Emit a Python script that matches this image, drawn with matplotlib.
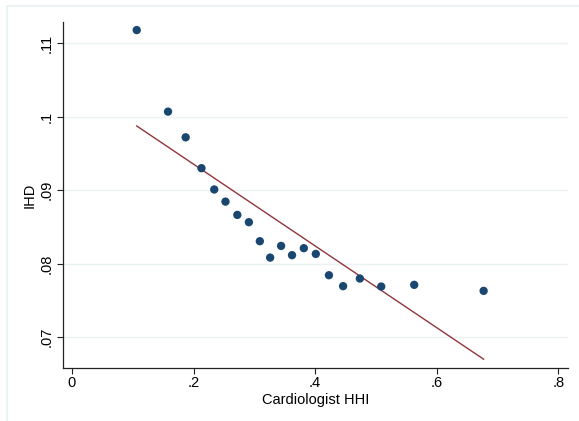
import matplotlib
matplotlib.use("Agg")
import matplotlib.pyplot as plt
from matplotlib.lines import Line2D
import numpy as np

plt.rcParams['font.family'] = ['Liberation Sans', 'DejaVu Sans']

# Binned scatter data
hhi = [0.1065, 0.158, 0.187, 0.213, 0.234, 0.2525, 0.272, 0.291, 0.309, 0.326,
       0.344, 0.362, 0.3814, 0.4011, 0.4227, 0.446, 0.4736, 0.5087, 0.563, 0.6772]
ihd = [0.1118, 0.1007, 0.0972, 0.0930, 0.0901, 0.08845, 0.08664, 0.08565, 0.08306, 0.08083,
       0.08242, 0.08116, 0.08211, 0.08133, 0.07843, 0.07694, 0.07798, 0.07689, 0.07712, 0.0763]

# Linear fit
fit_intercept = 0.10467
fit_slope = -0.05563

xticks = [0, 0.2, 0.4, 0.6, 0.8]
xticklabels = ["0", ".2", ".4", ".6", ".8"]
yticks = [0.07, 0.08, 0.09, 0.10, 0.11]
yticklabels = [".07", ".08", ".09", ".1", ".11"]

W, H = 579, 421
fig = plt.figure(figsize=(W/100, H/100), dpi=100)
fig.patch.set_facecolor('white')

# outer frame (Stata graph region border)
fig.add_artist(Line2D([7/W, 7/W], [0, 1 - 6/H], color='#EAF2F3', lw=1.2))
fig.add_artist(Line2D([7/W, 1], [1 - 6/H, 1 - 6/H], color='#EAF2F3', lw=1.2))

left, right, top, bottom = 63, 568, 22, 368
ax = fig.add_axes([left/W, 1 - bottom/H, (right-left)/W, (bottom-top)/H])

ax.set_xlim(-0.0148, 0.816)
ax.set_ylim(0.0658, 0.1129)

for yv in yticks:
    ax.axhline(yv, color='#EAF2F3', lw=1.0, zorder=0)

xs = np.array([min(hhi), max(hhi)])
ax.plot(xs, fit_intercept + fit_slope * xs, color='#90353B', lw=1.0, zorder=2)
ax.scatter(hhi, ihd, s=36, color='#1A476F', edgecolors='none', zorder=3)

ax.set_xticks(xticks)
ax.set_xticklabels(xticklabels)
ax.set_yticks(yticks)
ax.set_yticklabels(yticklabels, rotation=90, va='center')

for s in ['top', 'right']:
    ax.spines[s].set_visible(False)
for s in ['left', 'bottom']:
    ax.spines[s].set_color('#222222')
    ax.spines[s].set_linewidth(0.9)

ax.tick_params(axis='both', length=4, width=0.8, color='#222222', labelsize=10.5, labelcolor='black')
ax.tick_params(axis='y', pad=3)
ax.tick_params(axis='x', pad=2)

ax.set_xlabel("Cardiologist HHI", fontsize=10.5, labelpad=2)
ax.set_ylabel("IHD", fontsize=10.5, labelpad=2)

fig.savefig("out.png", dpi=100, facecolor='white')
